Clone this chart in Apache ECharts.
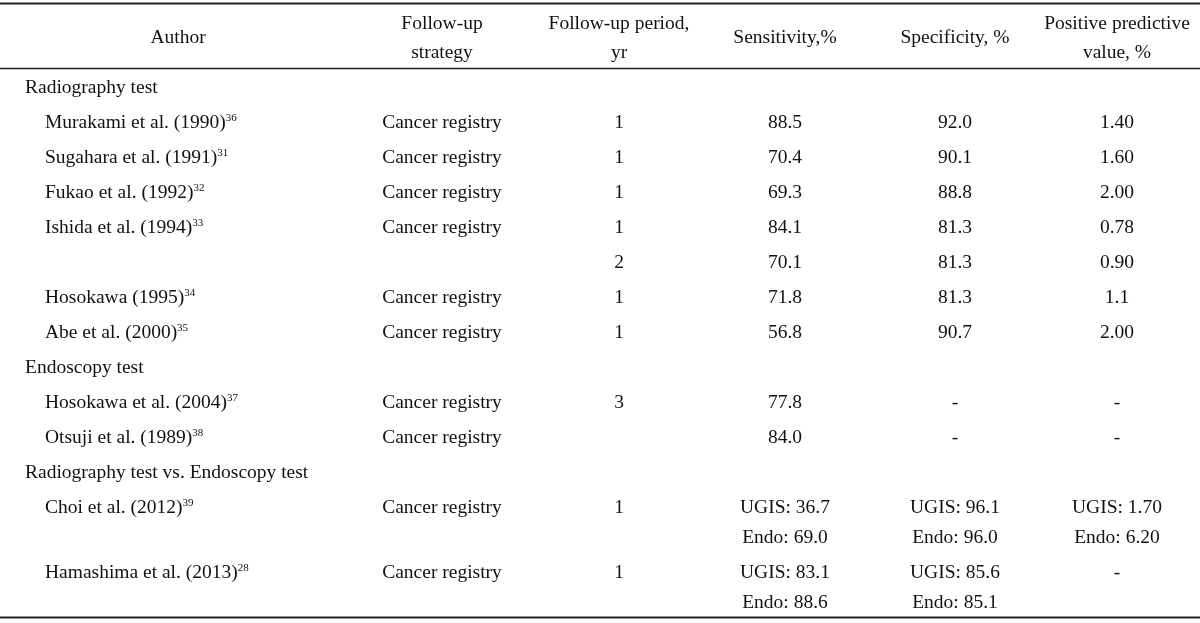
<!DOCTYPE html>
<html><head><meta charset="utf-8">
<script src="https://cdn.jsdelivr.net/npm/echarts@6/dist/echarts.min.js"></script>
<style>html,body{margin:0;padding:0;background:#fff}#c{width:1200px;height:623px}</style>
</head><body><div id="c"></div>
<script>
// ---- table content ----
const headers = ['Author', 'Follow-up\nstrategy', 'Follow-up period,\nyr', 'Sensitivity,%', 'Specificity, %', 'Positive predictive\nvalue, %'];
const groupLabels = ['Radiography test', 'Endoscopy test', 'Radiography test vs. Endoscopy test'];
const rowGroup = [0, 0, 0, 0, 0, 0, 0, 1, 1, 2, 2];
const authors = ['Murakami et al. (1990)', 'Sugahara et al. (1991)', 'Fukao et al. (1992)', 'Ishida et al. (1994)', '', 'Hosokawa (1995)', 'Abe et al. (2000)', 'Hosokawa et al. (2004)', 'Otsuji et al. (1989)', 'Choi et al. (2012)', 'Hamashima et al. (2013)'];
const refs = ['36', '31', '32', '33', '', '34', '35', '37', '38', '39', '28'];
const strategies = ['Cancer registry', 'Cancer registry', 'Cancer registry', 'Cancer registry', '', 'Cancer registry', 'Cancer registry', 'Cancer registry', 'Cancer registry', 'Cancer registry', 'Cancer registry'];
const periods = ['1', '1', '1', '1', '2', '1', '1', '3', '', '1', '1'];
const sensitivity = ['88.5', '70.4', '69.3', '84.1', '70.1', '71.8', '56.8', '77.8', '84.0', 'UGIS: 36.7\nEndo: 69.0', 'UGIS: 83.1\nEndo: 88.6'];
const specificity = ['92.0', '90.1', '88.8', '81.3', '81.3', '81.3', '90.7', '-', '-', 'UGIS: 96.1\nEndo: 96.0', 'UGIS: 85.6\nEndo: 85.1'];
const ppv = ['1.40', '1.60', '2.00', '0.78', '0.90', '1.1', '2.00', '-', '-', 'UGIS: 1.70\nEndo: 6.20', '-'];

// ---- layout (styles) ----
const ROW = 35, SUB = 30;           // px per row / per extra line
const FONT_FAMILY = 'Liberation Serif';
const FS = 19.5;
const COLOR = '#111111';
const colX = { group: 25, author: 45, authorHead: 178, strategy: 442, period: 619, sens: 785, spec: 955, ppv: 1117 };

// build line list (y in row units; row 0 = first body line)
const items = [];
items.push({ kind: 'header', y: -50 / ROW });
let cur = 0, lastGroup = -1;
for (let i = 0; i < authors.length; i++) {
  if (rowGroup[i] !== lastGroup) {
    items.push({ kind: 'group', y: cur, g: rowGroup[i] });
    cur += 1; lastGroup = rowGroup[i];
  }
  const nLines = Math.max(sensitivity[i].split('\n').length, specificity[i].split('\n').length, ppv[i].split('\n').length);
  items.push({ kind: 'row', y: cur, i: i });
  cur += (ROW + SUB * (nLines - 1)) / ROW;
}

function txt(p, text, align, extra) {
  return {
    type: 'text', x: p[0], y: p[1],
    style: Object.assign({
      text: text, fill: COLOR, fontFamily: FONT_FAMILY, fontSize: FS,
      align: align, verticalAlign: 'middle'
    }, extra || {})
  };
}

function renderRow(params, api) {
  const it = items[params.dataIndex];
  const y0 = api.value(1);
  const at = (x, dy) => api.coord([x, y0 + dy / ROW]);
  const children = [];
  if (it.kind === 'header') {
    const xs = [colX.authorHead, colX.strategy, colX.period, colX.sens, colX.spec, colX.ppv];
    headers.forEach((h, k) => {
      const lines = h.split('\n');
      lines.forEach((ln, j) => {
        const dy = (j - (lines.length - 1) / 2) * 29;
        children.push(txt(at(xs[k], dy), ln, 'center'));
      });
    });
  } else if (it.kind === 'group') {
    children.push(txt(at(colX.group, 0), groupLabels[it.g], 'left'));
  } else {
    const i = it.i;
    if (authors[i]) {
      children.push(txt(at(colX.author, 0), authors[i] + '{s|' + refs[i] + '}', 'left', {
        rich: { s: { fontSize: 11, fontFamily: FONT_FAMILY, fill: COLOR, verticalAlign: 'top', lineHeight: 11 } }
      }));
    }
    if (strategies[i]) children.push(txt(at(colX.strategy, 0), strategies[i], 'center'));
    if (periods[i]) children.push(txt(at(colX.period, 0), periods[i], 'center'));
    [[sensitivity[i], colX.sens], [specificity[i], colX.spec], [ppv[i], colX.ppv]].forEach(([v, x]) => {
      v.split('\n').forEach((ln, j) => children.push(txt(at(x, j * SUB), ln, 'center')));
    });
  }
  return { type: 'group', children: children };
}

function renderRules(params, api) {
  const rule = (ypx, w) => {
    const a = api.coord([0, (ypx - 88) / ROW]);
    const b = api.coord([1200, (ypx - 88) / ROW]);
    return { type: 'line', shape: { x1: a[0], y1: a[1], x2: b[0], y2: b[1] }, style: { stroke: '#231f20', lineWidth: w } };
  };
  return { type: 'group', children: [rule(3.5, 2), rule(68.5, 1.6), rule(617.5, 2)] };
}

const chart = echarts.init(document.getElementById('c'), null, { renderer: 'canvas' });
chart.setOption({
  animation: false,
  grid: { left: 0, width: 1200, top: 88, height: 350 },
  xAxis: { type: 'value', min: 0, max: 1200, show: false },
  yAxis: { type: 'value', min: 0, max: 10, inverse: true, show: false },
  series: [
    { type: 'custom', clip: false, renderItem: renderRules, data: [[0, 0]] },
    { type: 'custom', clip: false, renderItem: renderRow, data: items.map((it, k) => [k, it.y]) }
  ]
});
</script>
</body></html>
